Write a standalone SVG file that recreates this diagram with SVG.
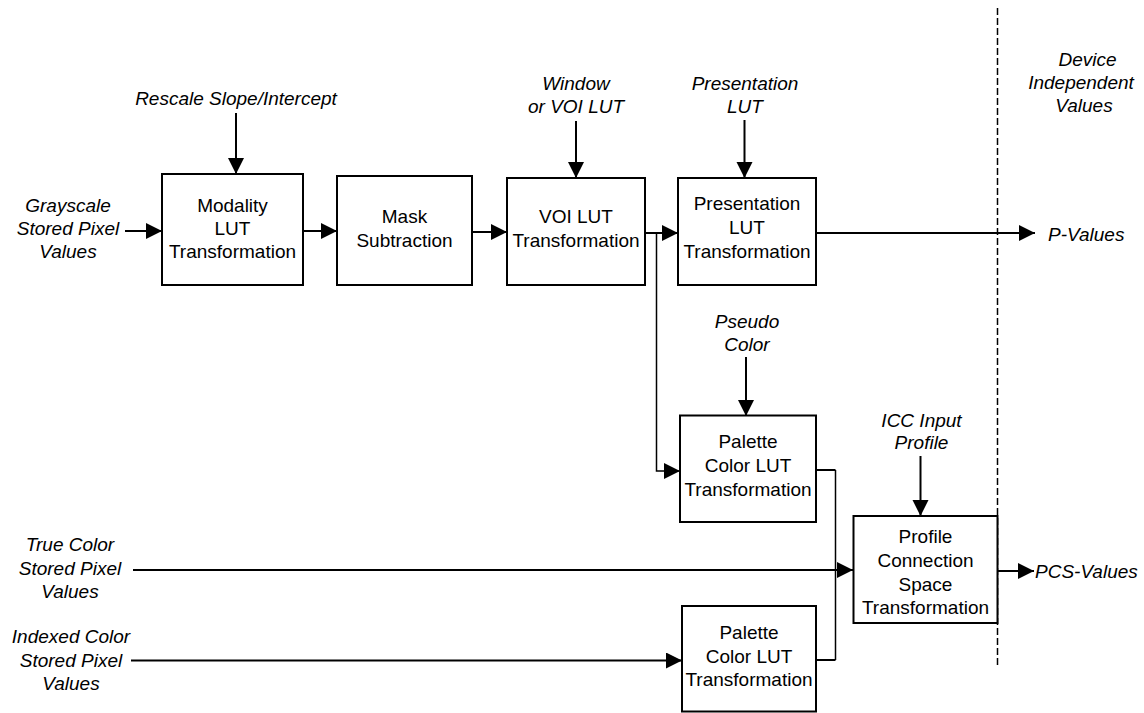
<svg xmlns="http://www.w3.org/2000/svg" width="1144" height="713" viewBox="0 0 1144 713">
<style>
  .box { fill: #ffffff; stroke: #000000; stroke-width: 2; }
  .t { font-family: "Liberation Sans", Arial, sans-serif; font-size: 19px; fill: #000000; text-anchor: middle; }
  .i { font-style: italic; }
  .c { fill: none; stroke: #000000; stroke-width: 2; }
  .thin { fill: none; stroke: #000000; stroke-width: 1.5; }
  .dash { fill: none; stroke: #000000; stroke-width: 1.5; stroke-dasharray: 7 3; }
</style>
<defs>
  <marker id="ah" markerUnits="userSpaceOnUse" markerWidth="17" markerHeight="17" refX="16" refY="8" orient="auto">
    <path d="M0,0 L16,8 L0,16 Z" fill="#000000"/>
  </marker>
</defs>
<rect width="1144" height="713" fill="#ffffff"/>

<g id="connectors">
  <line class="dash" x1="997.5" y1="8" x2="997.5" y2="668"/>
  <line class="c" x1="236" y1="113" x2="236" y2="174" marker-end="url(#ah)"/>
  <line class="c" x1="125" y1="231" x2="162" y2="231" marker-end="url(#ah)"/>
  <line class="c" x1="301" y1="231" x2="337" y2="231" marker-end="url(#ah)"/>
  <line class="c" x1="472" y1="232" x2="507" y2="232" marker-end="url(#ah)"/>
  <line class="c" x1="576" y1="121" x2="576" y2="178" marker-end="url(#ah)"/>
  <line class="c" x1="744.5" y1="120" x2="744.5" y2="178" marker-end="url(#ah)"/>
  <line class="c" x1="645" y1="233" x2="678" y2="233" marker-end="url(#ah)"/>
  <line class="c" x1="816" y1="233" x2="1035" y2="233" marker-end="url(#ah)"/>
  <polyline class="thin" points="656.5,233 656.5,471 680,471" marker-end="url(#ah)"/>
  <line class="c" x1="746" y1="357" x2="746" y2="416" marker-end="url(#ah)"/>
  <polyline class="c" points="816,470 835.5,470"/>
  <line class="thin" x1="835.5" y1="470" x2="835.5" y2="660"/>
  <polyline class="c" points="816,660 835.5,660"/>
  <line class="c" x1="920.5" y1="456" x2="920.5" y2="516" marker-end="url(#ah)"/>
  <line class="c" x1="133" y1="570" x2="853" y2="570" marker-end="url(#ah)"/>
  <line class="c" x1="131" y1="660.5" x2="682" y2="660.5" marker-end="url(#ah)"/>
  <line class="c" x1="997" y1="571" x2="1034" y2="571" marker-end="url(#ah)"/>
</g>

<g id="label-rescale">
  <text class="t i" x="236" y="105">Rescale Slope/Intercept</text>
</g>
<g id="label-grayscale">
  <text class="t i" x="68" y="212">Grayscale</text>
  <text class="t i" x="68" y="235">Stored Pixel</text>
  <text class="t i" x="68" y="258">Values</text>
</g>
<g id="node-modality">
  <rect class="box" x="162" y="174" width="141" height="111"/>
  <text class="t" x="232.5" y="212">Modality</text>
  <text class="t" x="232.5" y="235">LUT</text>
  <text class="t" x="232.5" y="258">Transformation</text>
</g>
<g id="node-mask">
  <rect class="box" x="337" y="176" width="135" height="109"/>
  <text class="t" x="404.5" y="223">Mask</text>
  <text class="t" x="404.5" y="246.5">Subtraction</text>
</g>
<g id="label-window">
  <text class="t i" x="576" y="89.5">Window</text>
  <text class="t i" x="576" y="113">or VOI LUT</text>
</g>
<g id="node-voi">
  <rect class="box" x="507" y="178" width="138" height="107"/>
  <text class="t" x="576" y="223">VOI LUT</text>
  <text class="t" x="576" y="246.5">Transformation</text>
</g>
<g id="label-presentation">
  <text class="t i" x="745" y="90">Presentation</text>
  <text class="t i" x="745" y="113">LUT</text>
</g>
<g id="node-presentation">
  <rect class="box" x="678" y="178" width="138" height="107"/>
  <text class="t" x="747" y="210">Presentation</text>
  <text class="t" x="747" y="234">LUT</text>
  <text class="t" x="747" y="258">Transformation</text>
</g>
<g id="label-device">
  <text class="t i" x="1087.5" y="66">Device</text>
  <text class="t i" x="1081" y="89">Independent</text>
  <text class="t i" x="1084" y="112">Values</text>
</g>
<g id="label-pvalues">
  <text class="t i" x="1048" y="241" style="text-anchor:start">P-Values</text>
</g>
<g id="label-pseudo">
  <text class="t i" x="747" y="328">Pseudo</text>
  <text class="t i" x="747" y="351">Color</text>
</g>
<g id="node-palette1">
  <rect class="box" x="680" y="415.5" width="136" height="106.5"/>
  <text class="t" x="748" y="448">Palette</text>
  <text class="t" x="748" y="472">Color LUT</text>
  <text class="t" x="748" y="495.5">Transformation</text>
</g>
<g id="label-icc">
  <text class="t i" x="921.5" y="427">ICC Input</text>
  <text class="t i" x="921.5" y="448.5">Profile</text>
</g>
<g id="node-pcs">
  <rect class="box" x="853.5" y="516" width="144" height="107"/>
  <text class="t" x="925.5" y="543">Profile</text>
  <text class="t" x="925.5" y="567">Connection</text>
  <text class="t" x="925.5" y="591">Space</text>
  <text class="t" x="925.5" y="614">Transformation</text>
</g>
<g id="label-pcsvalues">
  <text class="t i" x="1035" y="578" style="text-anchor:start">PCS-Values</text>
</g>
<g id="label-truecolor">
  <text class="t i" x="70" y="551">True Color</text>
  <text class="t i" x="70" y="575">Stored Pixel</text>
  <text class="t i" x="70" y="598">Values</text>
</g>
<g id="label-indexed">
  <text class="t i" x="71" y="643">Indexed Color</text>
  <text class="t i" x="71" y="666.5">Stored Pixel</text>
  <text class="t i" x="71" y="690">Values</text>
</g>
<g id="node-palette2">
  <rect class="box" x="682" y="606" width="134" height="105.5"/>
  <text class="t" x="749" y="639">Palette</text>
  <text class="t" x="749" y="662.5">Color LUT</text>
  <text class="t" x="749" y="686">Transformation</text>
</g>
</svg>
